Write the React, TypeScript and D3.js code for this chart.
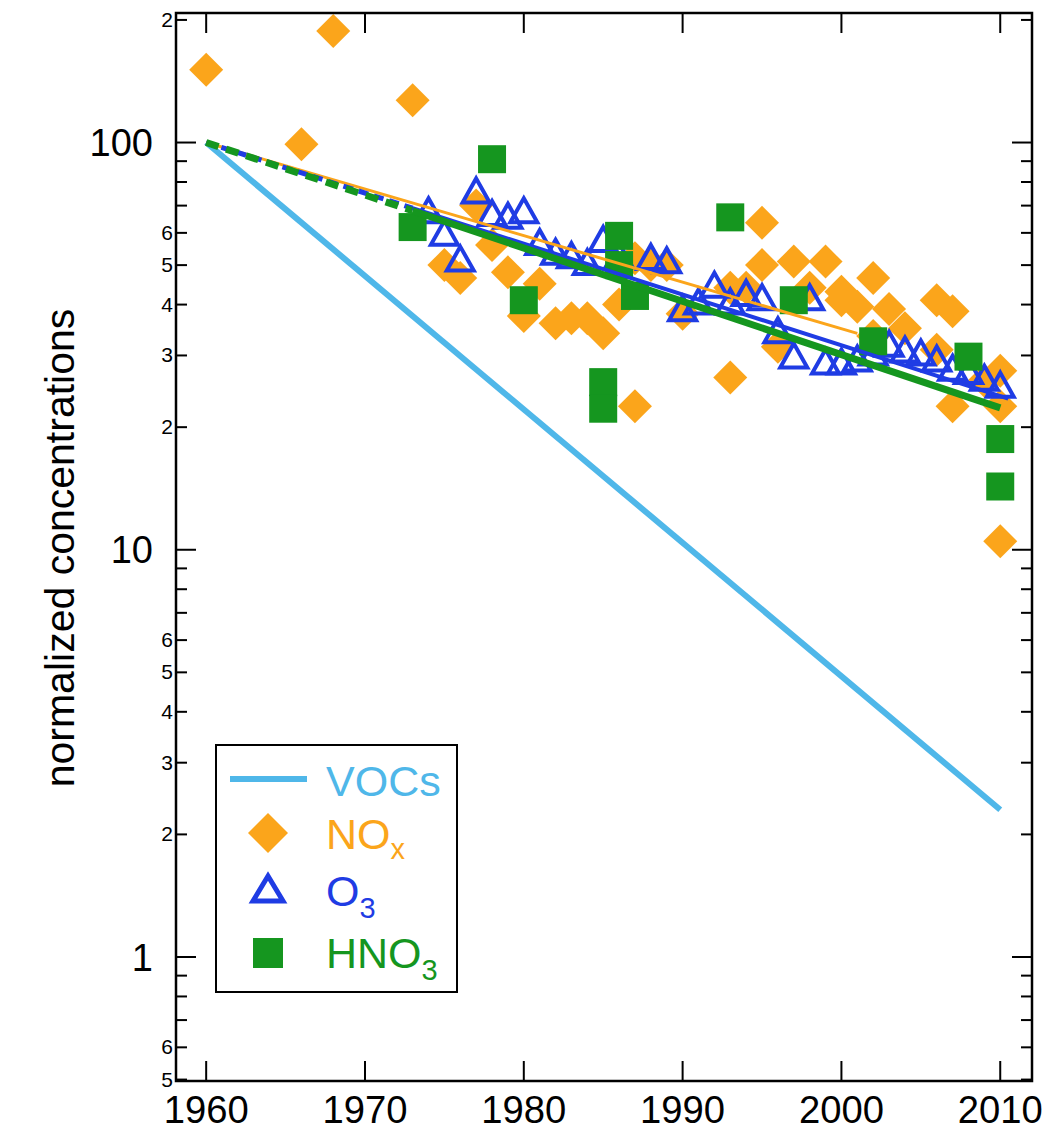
import React from 'react';
import * as d3 from 'd3';

// ---------- data ----------
const vocYears = [1960, 2010];
const vocValues = [100, 2.3];

const noxYears = [1960, 1966, 1968, 1973, 1975, 1976, 1977, 1978, 1979, 1980, 1981, 1982, 1983, 1984, 1985, 1986, 1987, 1987, 1988, 1989, 1990, 1993, 1993, 1994, 1995, 1995, 1996, 1997, 1998, 1999, 2000, 2000, 2001, 2002, 2002, 2003, 2004, 2006, 2006, 2007, 2007, 2009, 2010, 2010, 2010];
const noxValues = [151, 99, 188, 127, 50, 46.5, 70, 56, 48, 37.5, 45, 36, 37, 37, 34, 40, 22.5, 52, 50, 50, 38, 26.5, 44, 44, 63.5, 50, 31.5, 51, 44, 51, 43, 41, 39.5, 46.5, 33.5, 39, 35, 41, 31, 38.5, 22.5, 26, 27.5, 22.5, 10.5];

const o3Years = [1974, 1975, 1976, 1977, 1978, 1979, 1980, 1981, 1982, 1983, 1984, 1985, 1986, 1988, 1989, 1990, 1991, 1992, 1993, 1994, 1995, 1996, 1997, 1998, 1999, 2000, 2001, 2002, 2003, 2004, 2005, 2006, 2007, 2008, 2009, 2010];
const o3Values = [67, 59, 51, 75, 66, 65, 67, 56, 53, 52, 50, 57, 52, 51.5, 50.5, 38.5, 40, 44, 40, 42, 41, 34, 29.5, 41, 28.5, 28.5, 29, 30, 31.5, 30.5, 30, 29, 27.5, 27, 26, 25];

const hno3Years = [1973, 1978, 1980, 1985, 1985, 1986, 1986, 1987, 1993, 1997, 2002, 2008, 2010, 2010];
const hno3Values = [62, 91, 41, 25.8, 22.2, 59, 50, 42, 65.5, 41, 32.5, 29.8, 18.7, 14.3];

// trend lines
const noxFitYears = [1960, 2001];
const noxFitValues = [100, 34];
const o3FitDashYears = [1960, 1973];
const o3FitDashValues = [100, 69];
const o3FitYears = [1973, 2010.5];
const o3FitValues = [69, 23.5];
const hno3FitDashYears = [1960, 1973];
const hno3FitDashValues = [100, 68];
const hno3FitYears = [1973, 2010];
const hno3FitValues = [68, 22.3];

// axes
const xDomain = [1958.1, 2012];
const yDomain = [0.496, 208];
const yearTicks = [1960, 1970, 1980, 1990, 2000, 2010];
const yMajorTicks = [1, 10, 100];
const yMinorTicks = [0.5, 0.6, 0.7, 0.8, 0.9, 2, 3, 4, 5, 6, 7, 8, 9, 20, 30, 40, 50, 60, 70, 80, 90, 200];
const yMinorLabeled = [0.5, 0.6, 2, 3, 4, 5, 6, 20, 30, 40, 50, 60, 200];

// ---------- styling ----------
const C_VOC = '#4FB7E9';
const C_NOX = '#FBA51B';
const C_O3 = '#1F3CE4';
const C_HNO3 = '#15961F';
const FONT = '"Liberation Sans", Arial, Helvetica, sans-serif';

const W = 1048, H = 1136;
const L = 176, R = 1032, T = 13, B = 1081;

export default function App() {
  const x = d3.scaleLinear().domain(xDomain).range([L, R]);
  const y = d3.scaleLog().domain(yDomain).range([B, T]);

  const line = d3.line<[number, number]>().x(d => x(d[0])).y(d => y(d[1]));
  const pts = (ys: number[], vs: number[]) => ys.map((yy, i) => [yy, vs[i]] as [number, number]);

  const diamond = 'M0,-17L17,0L0,17L-17,0Z';
  const triangle = 'M0,-15L13.5,9L-13.5,9Z';

  const mantissa = (v: number) => String(Math.round(v / Math.pow(10, Math.floor(Math.log10(v) + 1e-9))));

  return (
    <div style={{ position: 'absolute', left: 0, top: 0 }}>
      <svg width={W} height={H} style={{ display: 'block', background: '#fff' }} fontFamily={FONT}>
        <defs>
          <clipPath id="plotclip">
            <rect x={L} y={T} width={R - L} height={B - T} />
          </clipPath>
        </defs>

        {/* y title */}
        <text transform={`translate(74,548) rotate(-90)`} textAnchor="middle" fontSize={41} fill="#000">normalized concentrations</text>

        <g clipPath="url(#plotclip)">
          {/* VOCs */}
          <path d={line(pts(vocYears, vocValues)) || ''} fill="none" stroke={C_VOC} strokeWidth={6} />

          {/* NOx diamonds */}
          {noxYears.map((yr, i) => (
            <path key={'n' + i} d={diamond} transform={`translate(${x(yr)},${y(noxValues[i])})`} fill={C_NOX} />
          ))}
          {/* O3 triangles */}
          {o3Years.map((yr, i) => (
            <path key={'o' + i} d={triangle} transform={`translate(${x(yr)},${y(o3Values[i])})`} fill="none" stroke={C_O3} strokeWidth={4} />
          ))}
          {/* HNO3 squares */}
          {hno3Years.map((yr, i) => (
            <rect key={'h' + i} x={x(yr) - 14} y={y(hno3Values[i]) - 14} width={28} height={28} fill={C_HNO3} />
          ))}

          {/* fits */}
          <path d={line(pts(noxFitYears, noxFitValues)) || ''} fill="none" stroke={C_NOX} strokeWidth={3} />
          <path d={line(pts(o3FitDashYears, o3FitDashValues)) || ''} fill="none" stroke={C_O3} strokeWidth={5} strokeDasharray="10 6" />
          <path d={line(pts(hno3FitDashYears, hno3FitDashValues)) || ''} fill="none" stroke={C_HNO3} strokeWidth={7} strokeDasharray="13 8" />
          <path d={line(pts(o3FitYears, o3FitValues)) || ''} fill="none" stroke={C_O3} strokeWidth={4} />
          <path d={line(pts(hno3FitYears, hno3FitValues)) || ''} fill="none" stroke={C_HNO3} strokeWidth={7} />
        </g>

        {/* frame */}
        <rect x={L} y={T} width={R - L} height={B - T} fill="none" stroke="#000" strokeWidth={2.5} />

        {/* x ticks */}
        {yearTicks.map(t => (
          <g key={'xt' + t}>
            <line x1={x(t)} x2={x(t)} y1={B} y2={B - 20} stroke="#000" strokeWidth={2} />
            <line x1={x(t)} x2={x(t)} y1={T} y2={T + 20} stroke="#000" strokeWidth={2} />
            <text x={x(t)} y={1123} textAnchor="middle" fontSize={39} textLength={85} lengthAdjust="spacingAndGlyphs">{t}</text>
          </g>
        ))}

        {/* y major ticks */}
        {yMajorTicks.map(t => (
          <g key={'ym' + t}>
            <line x1={L} x2={L + 20} y1={y(t)} y2={y(t)} stroke="#000" strokeWidth={2} />
            <line x1={R} x2={R - 20} y1={y(t)} y2={y(t)} stroke="#000" strokeWidth={2} />
            <text x={153} y={y(t)} dy="0.36em" textAnchor="end" fontSize={38}>{t}</text>
          </g>
        ))}
        {/* y minor ticks */}
        {yMinorTicks.map(t => (
          <g key={'yn' + t}>
            <line x1={L} x2={L + 11} y1={y(t)} y2={y(t)} stroke="#000" strokeWidth={2} />
            <line x1={R} x2={R - 11} y1={y(t)} y2={y(t)} stroke="#000" strokeWidth={2} />
          </g>
        ))}
        {yMinorLabeled.map(t => (
          <text key={'yl' + t} x={173} y={y(t)} dy="0.33em" textAnchor="end" fontSize={21}>{mantissa(t)}</text>
        ))}

        {/* legend */}
        <g>
          <rect x={216} y={745} width={241} height={247} fill="#fff" stroke="#000" strokeWidth={2} />
          <line x1={230} x2={307} y1={779} y2={779} stroke={C_VOC} strokeWidth={6} />
          <text x={326} y={796} fontSize={43} fill={C_VOC}>VOCs</text>

          <path d="M0,-20L20,0L0,20L-20,0Z" transform="translate(268,833)" fill={C_NOX} />
          <text x={326} y={849} fontSize={43} fill={C_NOX}>NO<tspan fontSize={29} dy={10}>x</tspan></text>

          <path d="M0,-13L15,12L-15,12Z" transform="translate(268,889)" fill="none" stroke={C_O3} strokeWidth={5} />
          <text x={326} y={906} fontSize={43} fill={C_O3}>O<tspan fontSize={29} dy={12}>3</tspan></text>

          <rect x={253} y={938} width={30} height={30} fill={C_HNO3} />
          <text x={326} y={968} fontSize={43} fill={C_HNO3}>HNO<tspan fontSize={29} dy={12}>3</tspan></text>
        </g>
      </svg>
    </div>
  );
}
